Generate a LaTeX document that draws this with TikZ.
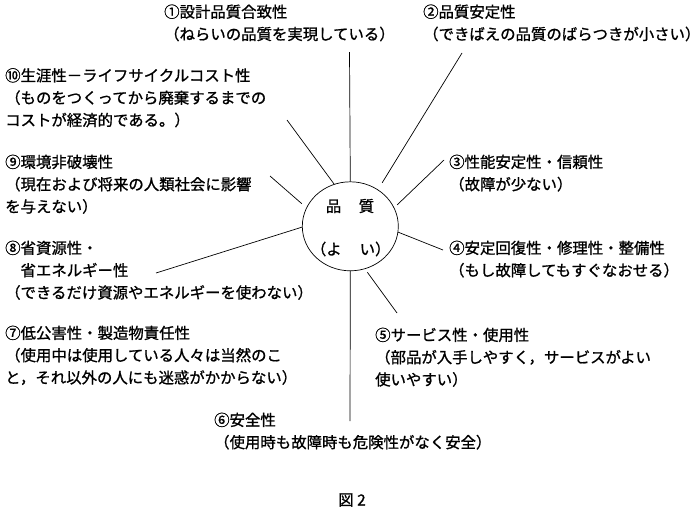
\documentclass[tikz,border=0pt]{standalone}
\usepackage{fontspec}
\setmainfont{Noto Sans CJK JP}[FakeBold=1]
\usetikzlibrary{shapes.geometric}
\begin{document}
\begin{tikzpicture}[x=1pt,y=-1pt,
  lbl/.style={anchor=north west, inner sep=0pt, align=left, font=\fontsize{15.4}{22.3}\selectfont},
  ctext/.style={inner sep=0pt, font=\fontsize{15.4}{18}\selectfont},
  ln/.style={line width=0.7pt}]
\path[fill=white] (0,0) rectangle (700,517);
\useasboundingbox (0,0) rectangle (700,517);

% centre
\node[draw, ellipse, minimum width=96pt, minimum height=89pt, inner sep=0pt, line width=0.7pt] (q) at (350.3,226.3) {};
\node[ctext] (q1) at (350,206) {品\hspace{17.6pt}質};
\node[ctext] (q2) at (350.7,249) {（よ\hspace{18pt}い）};

% labels
\node[lbl] (t1) at (164,4.3) {①設計品質合致性\\（ねらいの品質を実現している）};
\node[lbl] (t2) at (423,4.3) {②品質安定性\\（できばえの品質のばらつきが小さい）};
\node[lbl] (t10) at (5,68) {⑩生涯性－ライフサイクルコスト性\\（ものをつくってから廃棄するまでの\\コストが経済的である。）};
\node[lbl] (t9) at (5,154.5) {⑨環境非破壊性\\（現在および将来の人類社会に影響\\を与えない）};
\node[lbl] (t8) at (5,240.5) {⑧省資源性・\\　省エネルギー性\\（できるだけ資源やエネルギーを使わない）};
\node[lbl] (t7) at (5,325.5) {⑦低公害性・製造物責任性\\（使用中は使用している人々は当然のこ\\と，それ以外の人にも迷惑がかからない）};
\node[lbl] (t3) at (449,154.5) {③性能安定性・信頼性\\（故障が少ない）};
\node[lbl] (t4) at (449,240.5) {④安定回復性・修理性・整備性\\（もし故障してもすぐなおせる）};
\node[lbl] (t5) at (375,327.5) {⑤サービス性・使用性\\（部品が入手しやすく，サービスがよい\\使いやすい）};
\node[lbl] (t6) at (214,412.5) {⑥安全性\\（使用時も故障時も危険性がなく安全）};
\node[ctext] (fig) at (352,500) {図 2};

% free ends of the spokes
\coordinate (e1) at (349.5,52);
\coordinate (e2) at (462,53);
\coordinate (e3) at (444,160);
\coordinate (e4) at (443,250);
\coordinate (e5) at (397,313);
\coordinate (e6) at (350,421);
\coordinate (e8) at (156,273);
\coordinate (e9) at (270,176);
\coordinate (e10) at (287,120);

% spokes
\draw[ln] (e1) -- (q.90);
\draw[ln, shorten >=8pt] (e2) -- (q.53);
\draw[ln, shorten >=4pt] (e3) -- (q.23);
\draw[ln] (e4) -- (q.-7);
\draw[ln, shorten >=4pt] (e5) -- (q.-71);
\draw[ln] (e6) -- (q.-90);
\draw[ln] (e8) -- (q.181);
\draw[ln, shorten >=6pt] (e9) -- (q.157);
\draw[ln] (e10) -- (q.111);
\end{tikzpicture}
\end{document}
